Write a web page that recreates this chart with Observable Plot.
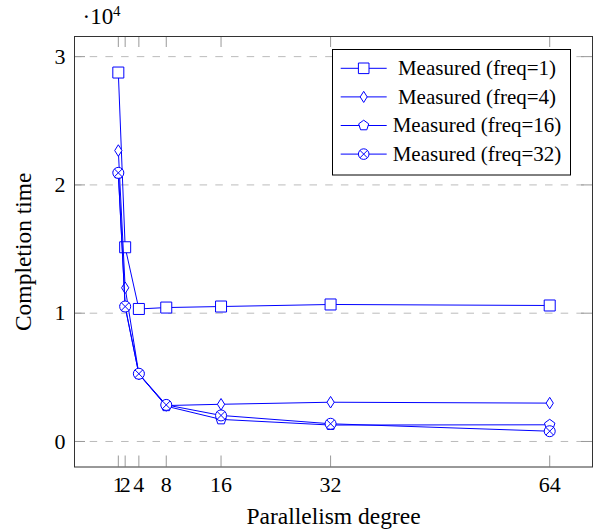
<!DOCTYPE html>
<html><head><meta charset="utf-8">
<script src="https://cdn.jsdelivr.net/npm/d3@7"></script>
<script src="https://cdn.jsdelivr.net/npm/@observablehq/plot@0.6"></script>
<style>body{margin:0;background:#fff;font-family:'Liberation Serif',serif} #chart{width:595px;height:531px}</style>
</head><body><div id="chart"></div>
<script>
const degrees = [1, 2, 4, 8, 16, 32, 64];
const freq1  = [28760, 15140, 10330, 10440, 10520, 10680, 10600];
const freq4  = [22680, 11980, 5250, 2800, 2900, 3060, 2990];
const freq16 = [20900, 10500, 5250, 2750, 1720, 1280, 1300];
const freq32 = [20940, 10520, 5280, 2850, 2030, 1380, 800];
const seriesNames = ["Measured (freq=1)", "Measured (freq=4)", "Measured (freq=16)", "Measured (freq=32)"];
const xTicks = [1, 2, 4, 8, 16, 32, 64];
const yTicks = [0, 10000, 20000, 30000];
const yTickLabels = ["0", "1", "2", "3"];

const rad = size => Math.sqrt(size / Math.PI);
const symSquare = {draw(c, s){const r = rad(s); c.moveTo(-r,-r); c.lineTo(r,-r); c.lineTo(r,r); c.lineTo(-r,r); c.closePath();}};
const symDiamond = {draw(c, s){const r = rad(s); const w = r*0.66, h = r*1.05; c.moveTo(0,-h); c.lineTo(w,0); c.lineTo(0,h); c.lineTo(-w,0); c.closePath();}};
const symPentagon = {draw(c, s){const r = rad(s); for (let i = 0; i < 5; i++){const a = -Math.PI/2 + i*2*Math.PI/5; const px = r*Math.cos(a), py = r*Math.sin(a); if (i===0) c.moveTo(px,py); else c.lineTo(px,py);} c.closePath();}};
const symOtimes = {draw(c, s){const r = rad(s); c.moveTo(r,0); c.arc(0,0,r,0,2*Math.PI); c.closePath(); const a = r*Math.SQRT1_2; c.moveTo(-a,-a); c.lineTo(a,a); c.moveTo(-a,a); c.lineTo(a,-a);}};
const symbols = [symSquare, symDiamond, symPentagon, symOtimes];
const allSeries = [freq1, freq4, freq16, freq32].map(vals => degrees.map((d, i) => ({x: d, y: vals[i]})));

const W = 595, H = 531, mL = 74, mR = 3, mT = 36, mB = 64.5;
const innerW = W - mL - mR, innerH = H - mT - mB;
const blue = "#0000ff";
const serifFont = "Liberation Serif";

const seriesMarks = [];
allSeries.forEach((data, k) => {
  seriesMarks.push(Plot.line(data, {x: "x", y: "y", stroke: blue, strokeWidth: 1}));
  seriesMarks.push(Plot.dot(data, {x: "x", y: "y", symbol: symbols[k], r: 5.5, stroke: blue, fill: "white", strokeWidth: 1}));
});

const chart = Plot.plot({
  width: W, height: H,
  marginLeft: mL, marginRight: mR, marginTop: mT, marginBottom: mB,
  x: {domain: [-5.4, 70.25]},
  y: {domain: [-1990, 31570]},
  style: {fontFamily: serifFont, fontSize: "22px", background: "white", color: "black"},
  marks: [
    Plot.ruleY(yTicks, {y: d => d, stroke: "#bbb", strokeDasharray: "7.5 8.2"}),
    Plot.tickX(xTicks, {x: d => d, insetTop: innerH - 11, stroke: "#999"}),
    Plot.tickX(xTicks, {x: d => d, insetBottom: innerH - 11, stroke: "#999"}),
    Plot.tickY(yTicks, {y: d => d, insetRight: innerW - 11, stroke: "#999"}),
    Plot.tickY(yTicks, {y: d => d, insetLeft: innerW - 11, stroke: "#999"}),
    Plot.axisX({ticks: xTicks, tickSize: 0, tickPadding: 9, label: null, fontSize: 22}),
    Plot.axisY({ticks: yTicks, tickSize: 0, tickPadding: 9, label: null, fontSize: 22, tickFormat: d => yTickLabels[yTicks.indexOf(d)]}),
    Plot.frame({stroke: "#333"}),
    ...seriesMarks,
    Plot.text(["Parallelism degree"], {frameAnchor: "bottom", textAnchor: "middle", lineAnchor: "middle", dy: 49, fontSize: 23.5, fill: "black"}),
    Plot.text(["Completion time"], {frameAnchor: "left", textAnchor: "middle", lineAnchor: "middle", rotate: -90, dx: -51, fontSize: 23.5, fill: "black"}),
    Plot.text(["·10"], {frameAnchor: "top-left", textAnchor: "start", lineAnchor: "middle", dx: 8, dy: -19.5, fontSize: 23, fill: "black"}),
    Plot.text(["4"], {frameAnchor: "top-left", textAnchor: "start", lineAnchor: "middle", dx: 38.5, dy: -25.5, fontSize: 15, fill: "black"})
  ]
});
document.getElementById("chart").appendChild(chart);

// Legend
const svg = d3.select(chart);
const lg = svg.append("g").attr("font-size", 21);
const lx0 = 332.5, ly0 = 49.5, lx1 = 570.5, ly1 = 175;
lg.append("rect").attr("x", lx0).attr("y", ly0).attr("width", lx1 - lx0).attr("height", ly1 - ly0)
  .attr("fill", "white").attr("stroke", "black").attr("stroke-width", 1);
seriesNames.forEach((name, k) => {
  const cy = 68.3 + k * 28.6;
  lg.append("line").attr("x1", 340.7).attr("x2", 386.7).attr("y1", cy).attr("y2", cy).attr("stroke", blue).attr("stroke-width", 1);
  const p = d3.path(); symbols[k].draw(p, Math.PI * 5.3 * 5.3);
  lg.append("path").attr("d", p.toString()).attr("transform", `translate(363.7,${cy})`).attr("fill", "white").attr("stroke", blue).attr("stroke-width", 1);
  lg.append("text").attr("x", 477).attr("y", cy).attr("dy", "0.33em").attr("text-anchor", "middle").attr("fill", "black").text(name);
});
svg.selectAll("text").style("font-family", serifFont);
</script></body></html>
